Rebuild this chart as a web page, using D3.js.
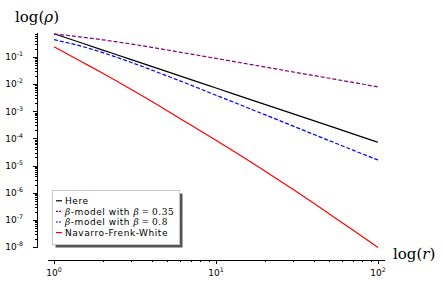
<!DOCTYPE html>
<html>
<head>
<meta charset="utf-8">
<script src="https://cdn.jsdelivr.net/npm/d3@7"></script>
<style>
  body { margin: 0; background: #fff; }
  svg { display: block; font-family: "DejaVu Sans", sans-serif; }
  .axis path, .axis line { stroke: #000; stroke-width: 1; shape-rendering: crispEdges; }
  .tick-label { font-size: 9px; fill: #000; }
  .math { font-family: "DejaVu Serif", serif; }
</style>
</head>
<body>
<svg id="chart" width="443" height="286"></svg>
<script>
// radii sampled along the x axis
let radii = [1, 1.5, 2, 3, 5, 7, 10, 15, 20, 30, 50, 70, 100];

// densities
let here     = [0.72, 0.32, 0.18, 0.08, 0.029, 0.0147, 0.0072, 0.0032, 0.0018, 8e-4, 2.9e-4, 1.47e-4, 7.2e-5];
let beta035  = [0.70, 0.54, 0.43, 0.30, 0.181, 0.128, 0.089, 0.058, 0.043, 0.028, 0.0165, 0.0116, 0.0079];
let beta08   = [0.435, 0.243, 0.145, 0.063, 0.02, 0.0092, 0.0039, 0.0015, 7.5e-4, 2.84e-4, 8.3e-5, 3.7e-5, 1.6e-5];
let nfw      = [0.24, 0.064, 0.025, 0.0063, 1.05e-3, 3.1e-4, 8.5e-5, 1.9e-5, 6.3e-6, 1.3e-6, 1.66e-7, 4.2e-8, 9.5e-9];

let series = [
  {name: 'Here', values: here, color: '#000000', dash: null},
  {name: 'beta035', values: beta035, color: '#800080', dash: '4,2'},
  {name: 'beta08', values: beta08, color: '#0000ff', dash: '4,2'},
  {name: 'Navarro-Frenk-White', values: nfw, color: '#ff0000', dash: null}
];

let xMajor = [1, 10, 100];
let yMajor = [1e-1, 1e-2, 1e-3, 1e-4, 1e-5, 1e-6, 1e-7, 1e-8];

let svg = d3.select('#chart');

let x = d3.scaleLog().domain([1, 100]).range([54, 378]);
let y = d3.scaleLog().domain([1e-8, 1e-1]).range([247, 57]);

// axis extents (slightly wider than the data, like sage does)
let xAx = x.copy().domain([0.915, 110]).range([x(0.915), x(110)]);
let yAx = y.copy().domain([9.2e-9, 0.77]).range([y(9.2e-9), y(0.77)]);

function minorTicks(lo, hi) {
  let out = [];
  for (let e = -9; e <= 3; e++) {
    for (let m = 1; m < 10; m++) {
      let v = m * Math.pow(10, e);
      if (v >= lo && v <= hi) out.push(v);
    }
  }
  return out;
}

// x axis
let xG = svg.append('g').attr('class', 'axis').attr('transform', 'translate(0,259.5)');
xG.call(d3.axisBottom(xAx).tickValues(minorTicks(0.915, 110).filter(v => !xMajor.includes(v)))
  .tickSize(2).tickSizeOuter(0).tickFormat(''));
xG.append('g').call(d3.axisBottom(xAx).tickValues(xMajor).tickSize(4).tickSizeOuter(0).tickFormat(''))
  .select('.domain').remove();

// y axis
let yG = svg.append('g').attr('class', 'axis').attr('transform', 'translate(36.5,0)');
yG.call(d3.axisLeft(yAx).tickValues(minorTicks(9.2e-9, 0.77).filter(v => !yMajor.some(m => Math.abs(m - v) / m < 1e-6)))
  .tickSize(2).tickSizeOuter(0).tickFormat(''));
yG.append('g').call(d3.axisLeft(yAx).tickValues(yMajor).tickSize(4).tickSizeOuter(0).tickFormat(''))
  .select('.domain').remove();

// tick labels as 10 with a superscript exponent
function powLabel(sel, v) {
  let e = Math.round(Math.log10(v));
  sel.append('tspan').text('10');
  sel.append('tspan').attr('dy', -4).style('font-size', '6.3px').text(e < 0 ? '-' + (-e) : String(e));
}

xMajor.forEach(v => {
  let t = svg.append('text').attr('class', 'tick-label')
    .attr('x', x(v)).attr('y', 276).attr('text-anchor', 'middle');
  powLabel(t, v);
});

yMajor.forEach(v => {
  let t = svg.append('text').attr('class', 'tick-label')
    .attr('x', 23).attr('y', y(v) + 3.3).attr('text-anchor', 'end');
  powLabel(t, v);
});

// axis titles
let yt = svg.append('text').attr('class', 'math').attr('x', 15).attr('y', 22).style('font-size', '15px');
yt.append('tspan').text('log(');
yt.append('tspan').style('font-style', 'italic').text('ρ');
yt.append('tspan').text(')');

let xt = svg.append('text').attr('class', 'math').attr('x', 393).attr('y', 259).style('font-size', '15px');
xt.append('tspan').text('log(');
xt.append('tspan').style('font-style', 'italic').text('r');
xt.append('tspan').text(')');

// curves
let line = d3.line()
  .x((d, i) => x(radii[i]))
  .y(d => y(d))
  .curve(d3.curveMonotoneX);

svg.selectAll('.curve')
  .data(series)
  .enter()
  .append('path')
  .attr('class', 'curve')
  .attr('d', s => line(s.values))
  .attr('fill', 'none')
  .attr('stroke', s => s.color)
  .attr('stroke-width', 1.2)
  .attr('stroke-dasharray', s => s.dash);

// legend
let lg = svg.append('g').attr('transform', 'translate(52.5,190.5)');
lg.append('rect').attr('x', 3).attr('y', 3).attr('width', 127).attr('height', 54).attr('fill', '#555');
lg.append('rect').attr('width', 127).attr('height', 54).attr('fill', '#fff').attr('stroke', '#c8c8c8');

series.forEach((s, i) => {
  let yy = 10.3 + i * 10.6;
  lg.append('line').attr('x1', 3.5).attr('x2', 9.5).attr('y1', yy).attr('y2', yy)
    .attr('stroke', s.color).attr('stroke-width', 1.2)
    .attr('stroke-dasharray', s.dash ? '2,1' : null);
  let t = lg.append('text').attr('x', 12.5).attr('y', yy + 3.3)
    .style('font-size', '9px').style('letter-spacing', '0.55px');
  if (s.name === 'beta035' || s.name === 'beta08') {
    t.append('tspan').attr('class', 'math').style('font-style', 'italic').text('β');
    t.append('tspan').text('-model with ');
    t.append('tspan').attr('class', 'math').style('font-style', 'italic').text('β');
    t.append('tspan').attr('class', 'math').text('\u2009=\u2009' + (s.name === 'beta035' ? '0.35' : '0.8'));
  } else {
    t.text(s.name);
  }
});
</script>
</body>
</html>
